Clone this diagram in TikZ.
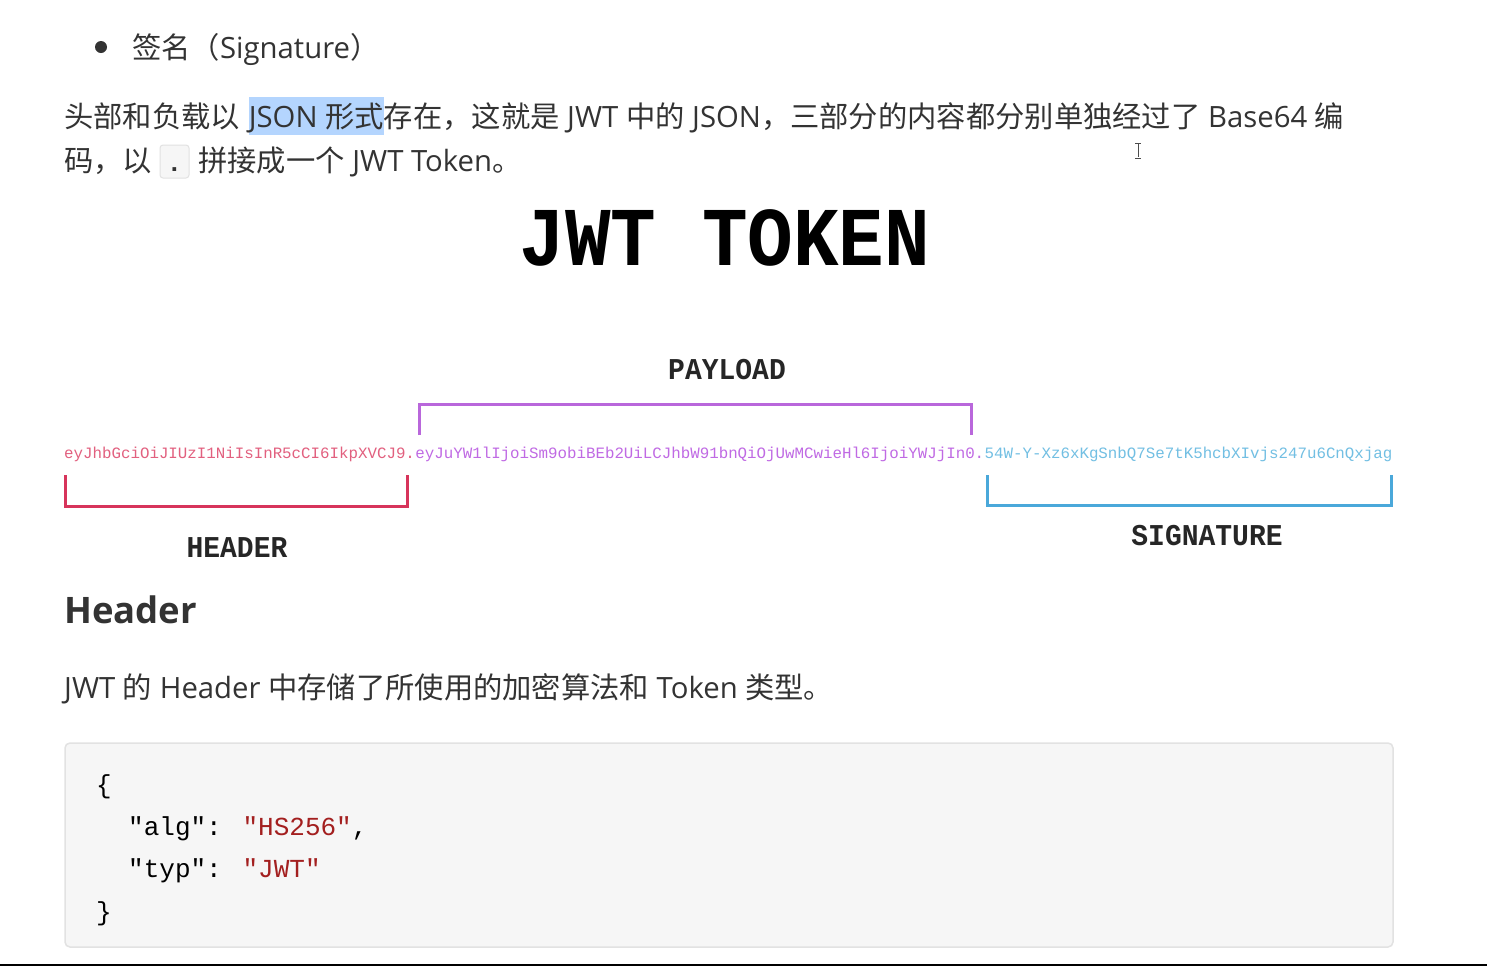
\documentclass[tikz,border=0pt]{standalone}
\usepackage{fontspec}
\usepackage{graphicx}
\setmainfont{Open Sans}
\newfontfamily\cjk{Noto Sans CJK SC}
\newfontfamily\monof{Liberation Mono}
\newcommand{\C}[1]{{\cjk #1}}
\definecolor{txt}{HTML}{333333}
\definecolor{hlblue}{HTML}{B4D5FE}
\definecolor{codebg}{HTML}{F6F6F6}
\definecolor{codeln}{HTML}{E2E2E2}
\definecolor{strred}{HTML}{A31F1F}
\definecolor{hdrline}{HTML}{D7345B}
\definecolor{hdrtext}{HTML}{E2607F}
\definecolor{plline}{HTML}{B967DB}
\definecolor{pltext}{HTML}{C06AE4}
\definecolor{sigline}{HTML}{4AA8DA}
\definecolor{sigtext}{HTML}{72BFE3}
\tikzset{
  body/.style={anchor=base west, inner sep=0pt, text=txt, font=\fontsize{29.3}{35}\selectfont},
  tok/.style={anchor=base west, inner sep=0pt, font=\monof\fontsize{15.8}{18}\selectfont},
  lbl/.style={anchor=base, inner sep=0pt, text=black!85, font=\monof\bfseries\fontsize{28}{32}\selectfont},
  code/.style={anchor=base west, inner sep=0pt, text=black, font=\monof\fontsize{26}{30}\selectfont},
  brk/.style={line width=3pt}
}
\begin{document}
\begin{tikzpicture}[x=1pt,y=-1pt]
\path[use as bounding box, fill=white] (0,0) rectangle (1487,967);
% bullet line
\fill[txt] (101,47) circle (6);
\node[body] (sig) at (132,58) {\C{签名（}Signature\C{）}};
% paragraph
\node[body] (p1) at (64,127) {\C{头部和负载以}\hspace{0.3em}{\setlength\fboxsep{0pt}\colorbox{hlblue}{\rule[-8pt]{0pt}{38pt}JSON \C{形式}}}\C{存在，这就是} JWT \C{中的} JSON\C{，三部分的内容都分别单独经过了} Base64 \C{编}};
\node[body] (p2a) at (64,171) {\C{码，以}};
\node[draw=codeln, fill=codebg, rounded corners=3pt, line width=1pt, minimum width=29pt, minimum height=33pt, inner sep=0pt] (dotbox) at (174.5,161.5) {};
\node[anchor=base, inner sep=0pt, text=txt, font=\monof\bfseries\fontsize{26}{30}\selectfont] (dot) at (174.5,171) {.};
\node[body] (p2b) at (198,171) {\C{拼接成一个} JWT Token\C{。}};
% cursor
\draw[line width=1pt, black!70] (1138,144) -- (1138,157) (1135,143) -- (1141,143) (1135,158) -- (1141,158);
% title
\node[anchor=base, inner sep=0pt, font=\monof\bfseries\fontsize{76}{80}\selectfont] (title) at (725,265) {\scalebox{1}[1.1]{JWT TOKEN}};
% token
\node[tok, text=hdrtext] (th) at (64,458) {eyJhbGciOiJIUzI1NiIsInR5cCI6IkpXVCJ9.};
\node[tok, text=pltext] (tp) at (th.base east) {eyJuYW1lIjoiSm9obiBEb2UiLCJhbW91bnQiOjUwMCwieHl6IjoiYWJjIn0.};
\node[tok, text=sigtext] (ts) at (tp.base east) {54W-Y-Xz6xKgSnbQ7Se7tK5hcbXIvjs247u6CnQxjag};
% brackets
\draw[brk, hdrline] (65,475) -- (65,506) -- (407,506) -- (407,475);
\draw[brk, plline] (419,435) -- (419,404) -- (971,404) -- (971,435);
\draw[brk, sigline] (987,475) -- (987,505) -- (1391,505) -- (1391,475);
\node[lbl] (lpl) at (727,379) {\scalebox{1}[1.08]{PAYLOAD}};
\node[lbl] (lhd) at (237,557) {\scalebox{1}[1.08]{HEADER}};
\node[lbl] (lsg) at (1207,545) {\scalebox{1}[1.08]{SIGNATURE}};
% header section
\node[anchor=base west, inner sep=0pt, text=txt, font=\bfseries\fontsize{36.5}{40}\selectfont] (h2) at (64,623) {Header};
\node[body] (p3) at (64,698) {JWT \C{的} Header \C{中存储了所使用的加密算法和} Token \C{类型。}};
% code block
\draw[fill=codebg, draw=codeln, line width=1.5pt, rounded corners=5pt] (65,743) rectangle (1393,947);
\node[code] (c1) at (96,793) {\{};
\node[code] (c2) at (128,835) {"alg": \textcolor{strred}{"HS256"},};
\node[code] (c3) at (128,877) {"typ": \textcolor{strred}{"JWT"}};
\node[code] (c4) at (96,920) {\}};
% bottom rule
\draw[line width=2.5pt, black] (0,965) -- (1487,965);
\end{tikzpicture}
\end{document}
